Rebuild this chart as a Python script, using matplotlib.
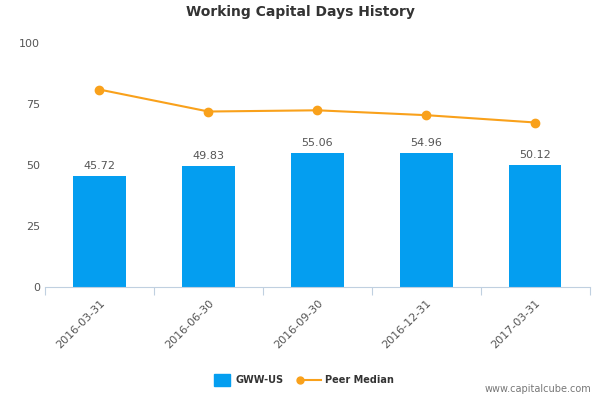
import numpy as np
import matplotlib.pyplot as plt

categories = ["2016-03-31", "2016-06-30", "2016-09-30", "2016-12-31", "2017-03-31"]
gww_us = [45.72, 49.83, 55.06, 54.96, 50.12]
peer_median = [81.0, 72.0, 72.5, 70.5, 67.5]

fig = plt.figure(figsize=(6, 4), dpi=100)
ax = fig.add_axes([0.075, 0.282, 0.908, 0.61])
x = np.arange(len(categories))

ax.bar(x, gww_us, width=0.48, color="#049ef0", zorder=2)
for xi, v in zip(x, gww_us):
    ax.text(xi, v + 2, f"{v:.2f}", ha="center", va="bottom", fontsize=8, color="#555555")

ax.plot(x, peer_median, color="#f9a11b", lw=1.5, marker="o", ms=6, zorder=3)

ax.set_xlim(-0.5, len(categories) - 0.5)
ax.set_ylim(0, 100)
ax.set_yticks([0, 25, 50, 75, 100])
ax.tick_params(axis="y", length=0, labelsize=8, labelcolor="#555555")
ax.set_xticks(np.arange(len(categories) + 1) - 0.5, minor=False)
ax.set_xticklabels([""] * (len(categories) + 1))
ax.tick_params(axis="x", length=6, color="#c0d0e0")
ax.set_xticks(x, minor=True)
ax.set_xticklabels(categories, minor=True, rotation=45, ha="right", rotation_mode="anchor",
                   fontsize=8, color="#555555")
ax.tick_params(axis="x", which="minor", length=0, pad=8)
for s in ["top", "right", "left"]:
    ax.spines[s].set_visible(False)
ax.spines["bottom"].set_color("#c0d0e0")

fig.text(0.5, 0.96, "Working Capital Days History", ha="center", fontsize=10,
         fontweight="bold", color="#333333")

fig.patches.append(plt.Rectangle((0.357, 0.035), 0.027, 0.03, transform=fig.transFigure,
                                 color="#049ef0"))
fig.text(0.392, 0.05, "GWW-US", fontsize=7, fontweight="bold", color="#333333", va="center")
fig.lines.append(plt.Line2D([0.5, 0.535], [0.05, 0.05], transform=fig.transFigure,
                            color="#f9a11b", lw=1.5, marker="o", ms=5, markevery=[0]))
fig.text(0.542, 0.05, "Peer Median", fontsize=7, fontweight="bold", color="#333333", va="center")
fig.text(0.985, 0.02, "www.capitalcube.com", ha="right", fontsize=7, color="#777777")

fig.savefig("out.png", dpi=100)
